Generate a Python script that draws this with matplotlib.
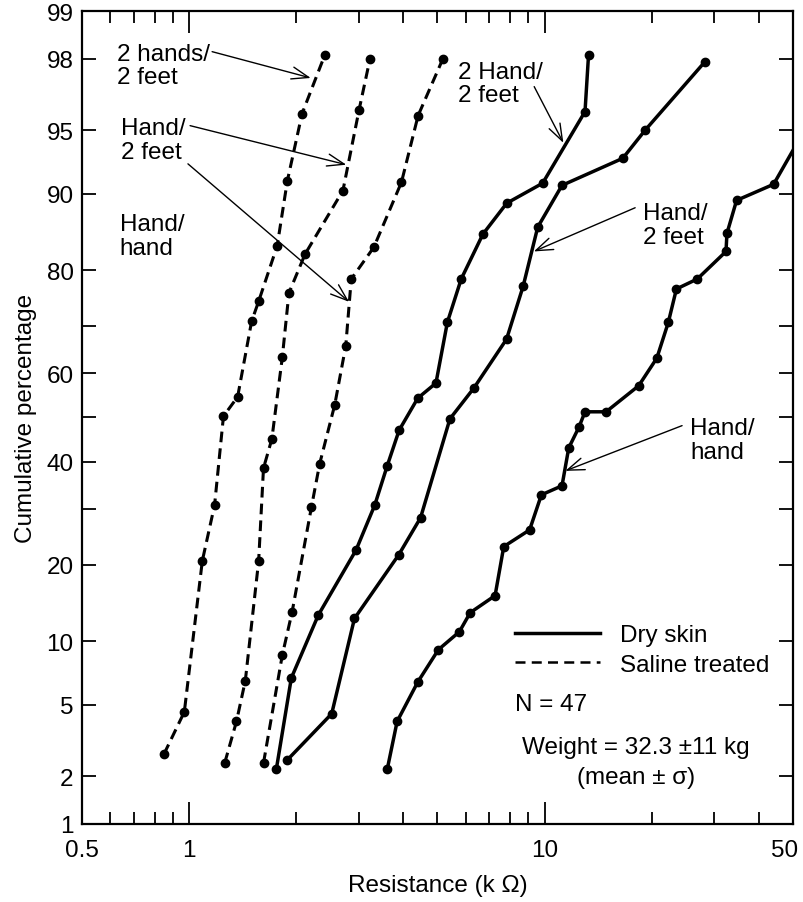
import numpy as np
import matplotlib
matplotlib.use("Agg")
import matplotlib.pyplot as plt
from matplotlib.lines import Line2D
from matplotlib.transforms import ScaledTranslation
from matplotlib.ticker import FixedLocator, FixedFormatter, NullFormatter, NullLocator
from statistics import NormalDist

plt.rcParams['font.family'] = ['Liberation Sans', 'DejaVu Sans']
plt.rcParams['font.size'] = 17.5

# resistance (kOhm) vs cumulative percentage, saline treated skin
sal_2h2f_r = [0.85, 0.97, 1.09, 1.18, 1.25, 1.37, 1.50, 1.57, 1.77, 1.89, 2.08, 2.41]
sal_2h2f_p = [2.7, 4.6, 20.6, 30.8, 50.3, 54.7, 70.9, 74.7, 83.7, 91.2, 95.9, 98.1]
sal_h2f_r = [1.26, 1.36, 1.44, 1.57, 1.62, 1.71, 1.83, 1.91, 2.12, 2.71, 3.01, 3.23]
sal_h2f_p = [2.4, 4.1, 6.6, 20.6, 38.6, 45.1, 63.5, 76.2, 82.5, 90.3, 96.1, 98.0]
sal_hh_r = [1.62, 1.83, 1.95, 2.21, 2.33, 2.57, 2.76, 2.86, 3.31, 3.96, 4.41, 5.18]
sal_hh_p = [2.4, 8.7, 13.3, 30.4, 39.5, 52.9, 65.9, 78.6, 83.5, 91.1, 95.8, 98.0]

# dry skin
dry_2h2f_r = [1.76, 1.94, 2.31, 2.95, 3.33, 3.61, 3.90, 4.40, 4.95, 5.33, 5.83, 6.71,
              7.83, 9.88, 13.0, 13.3]
dry_2h2f_p = [2.2, 6.8, 12.9, 22.4, 30.8, 39.1, 47.1, 54.4, 57.8, 70.7, 78.6, 85.3,
              89.0, 91.0, 96.0, 98.1]
dry_h2f_r = [1.89, 2.52, 2.92, 3.89, 4.48, 5.42, 6.33, 7.82, 8.71, 9.57, 11.2, 16.6,
             19.2, 28.2]
dry_h2f_p = [2.5, 4.5, 12.5, 21.6, 28.3, 49.7, 56.7, 67.3, 77.4, 86.2, 90.8, 93.1,
             95.0, 97.9]
dry_hh_r = [3.61, 3.85, 4.40, 5.03, 5.76, 6.18, 7.26, 7.68, 9.08, 9.80, 11.2, 11.7,
            12.5, 13.0, 14.9, 18.4, 20.7, 22.3, 23.5, 26.9, 32.4, 32.6, 34.7, 44.1, 55.3]
dry_hh_p = [2.2, 4.1, 6.5, 9.2, 11.0, 13.2, 15.4, 23.0, 26.0, 32.9, 34.8, 43.1,
            47.8, 51.3, 51.3, 57.2, 63.3, 70.7, 76.9, 78.6, 82.9, 85.4, 89.3, 90.9, 95.4]

pct_ticks = [1, 2, 5, 10, 20, 30, 40, 50, 60, 70, 80, 90, 95, 98, 99]
pct_labels = ['1', '2', '5', '10', '20', '', '40', '', '60', '', '80', '90', '95', '98', '99']
r_major = [0.5, 1, 10, 50]
r_labels = ['0.5', '1', '10', '50']
r_minor = [0.6, 0.7, 0.8, 0.9, 2, 3, 4, 5, 6, 7, 8, 9, 20, 30, 40]

# normal probability scale for the y axis
_nd = NormalDist()
_ppf = np.vectorize(_nd.inv_cdf, otypes=[float])
_cdf = np.vectorize(_nd.cdf, otypes=[float])


def pct_to_z(p):
    p = np.clip(np.asarray(p, dtype=float) / 100.0, 1e-6, 1 - 1e-6)
    return _ppf(p)


def z_to_pct(z):
    return _cdf(np.asarray(z, dtype=float)) * 100.0


fig = plt.figure(figsize=(8.04, 9.03), dpi=100)
ax = fig.add_axes([0.102, 0.0864, 0.8843, 0.9003])
ax.set_xscale('log')
ax.set_yscale('function', functions=(pct_to_z, z_to_pct))

dash = (3.5, 2.0)
for r, p in [(sal_2h2f_r, sal_2h2f_p), (sal_h2f_r, sal_h2f_p), (sal_hh_r, sal_hh_p)]:
    ax.plot(r, p, color='k', lw=2.2, dashes=dash, marker='o', ms=6)
for r, p in [(dry_2h2f_r, dry_2h2f_p), (dry_h2f_r, dry_h2f_p), (dry_hh_r, dry_hh_p)]:
    ax.plot(r, p, color='k', lw=2.5, marker='o', ms=6)

ax.set_xlim(0.5, 50)
ax.set_ylim(1, 99)

ax.xaxis.set_major_locator(FixedLocator(r_major))
ax.xaxis.set_major_formatter(FixedFormatter(r_labels))
ax.xaxis.set_minor_locator(FixedLocator(r_minor))
ax.xaxis.set_minor_formatter(NullFormatter())
ax.set_yticks(pct_ticks, labels=pct_labels)
ax.yaxis.set_minor_locator(NullLocator())

ax.tick_params(which='both', direction='in', top=True, right=True, width=1.3)
ax.tick_params(axis='x', which='major', length=16, pad=11)
ax.tick_params(axis='x', which='minor', length=8.5)
ax.tick_params(axis='y', which='major', length=10, pad=6)
for s in ax.spines.values():
    s.set_linewidth(1.6)

# nudge the last x label so it stays inside the figure
last = ax.get_xticklabels()[-1]
last.set_transform(last.get_transform() + ScaledTranslation(-6 / 72, 0, fig.dpi_scale_trans))

ax.set_xlabel('Resistance (k Ω)', labelpad=9)
ax.set_ylabel('Cumulative percentage', labelpad=7)

# curve labels with arrows
arrow = dict(arrowstyle='->,head_length=0.7,head_width=0.25', lw=1.0, color='k',
             shrinkA=0, shrinkB=0)
notes = [
    ('2 hands/\n2 feet', (0.049, 0.933), (0.183, 0.950), (2.20, 97.4)),
    ('Hand/\n2 feet', (0.055, 0.841), (0.152, 0.859), (2.77, 92.6)),
    ('Hand/\nhand', (0.053, 0.723), (0.149, 0.812), (2.82, 74.6)),
    ('2 Hand/\n2 feet', (0.529, 0.911), (0.636, 0.907), (11.3, 94.2)),
    ('Hand/\n2 feet', (0.789, 0.737), (0.778, 0.758), (9.33, 82.9)),
    ('Hand/\nhand', (0.855, 0.472), (0.844, 0.490), (11.44, 38.0)),
]
for txt, tpos, tail, tip in notes:
    ax.text(*tpos, txt, transform=ax.transAxes, ha='left', va='center', linespacing=1.1)
    ax.annotate('', xy=tip, xycoords='data', xytext=tail, textcoords='axes fraction',
                arrowprops=arrow)

handles = [Line2D([], [], color='k', lw=2.5),
           Line2D([], [], color='k', lw=1.8, dashes=(4, 2.5))]
ax.legend(handles=handles, labels=['Dry skin', 'Saline treated'], loc='upper left',
          bbox_to_anchor=(0.609, 0.2454), frameon=False, borderpad=0, borderaxespad=0,
          handlelength=3.5, handletextpad=0.8, labelspacing=0.3)

ax.text(0.609, 0.1476, 'N = 47', transform=ax.transAxes, ha='left', va='center')
ax.text(0.779, 0.0947, 'Weight = 32.3 ±11 kg', transform=ax.transAxes,
        ha='center', va='center')
ax.text(0.779, 0.0578, '(mean ± σ)', transform=ax.transAxes, ha='center', va='center')

fig.savefig('out.png', dpi=100)
